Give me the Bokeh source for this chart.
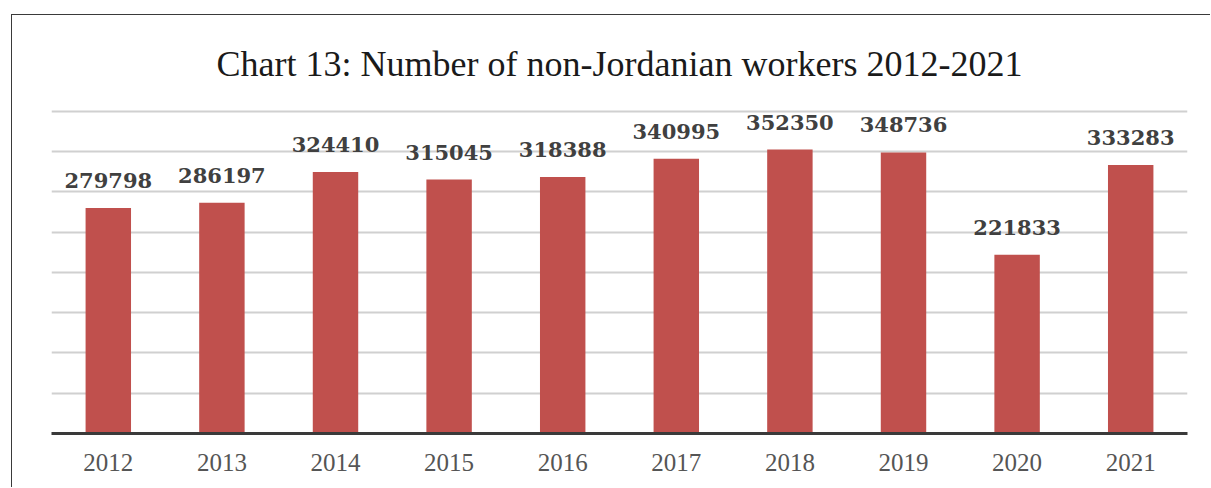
from bokeh.plotting import figure
from bokeh.models import Range1d, FixedTicker
from bokeh.core.properties import value
from bokeh.embed import file_html
from bokeh.resources import INLINE

# ---- data ----
years = ["2012", "2013", "2014", "2015", "2016", "2017", "2018", "2019", "2020", "2021"]
workers = [279798, 286197, 324410, 315045, 318388, 340995, 352350, 348736, 221833, 333283]
labels = [str(v) for v in workers]
grid_ticks = [0, 50000, 100000, 150000, 200000, 250000, 300000, 350000, 400000]

title_text = "Chart 13: Number of non-Jordanian workers 2012-2021"

p = figure(
    x_range=years,
    y_range=Range1d(0, 402000),
    width=1199,
    height=473,
    output_backend="svg",
    toolbar_location=None,
    title=title_text,
    min_border_left=39,
    min_border_right=24,
    min_border_top=94,
    min_border_bottom=55,
)
# outer chart border (only its left and top edges fall inside the window)
p.styles = {
    "margin-left": "11px",
    "margin-top": "14px",
    "border-left": "1px solid #3a3a3a",
    "border-top": "1px solid #3a3a3a",
}

p.title.text_font = "Liberation Serif"
p.title.text_font_size = "36px"
p.title.text_font_style = "normal"
p.title.text_color = "#1a1a1a"
p.title.align = "center"
p.title.standoff = 52

p.vbar(x=years, top=workers, width=0.4, color="#c0504d", line_color=None)

p.text(
    x=years, y=workers, text=labels,
    text_font=value("DejaVu Serif"), text_font_style="bold",
    text_font_size="21px", text_color="#404040",
    text_align="center", text_baseline="bottom", y_offset=-20,
)

p.outline_line_color = None
p.background_fill_color = "white"
p.border_fill_color = "white"

p.xgrid.grid_line_color = None
p.ygrid.ticker = FixedTicker(ticks=grid_ticks)
p.ygrid.grid_line_color = "#d0d0d0"
p.ygrid.grid_line_width = 2

p.yaxis.visible = False

ax = p.xaxis[0]
ax.axis_line_color = "#3a3a3a"
ax.axis_line_width = 3
ax.major_tick_line_color = None
ax.minor_tick_line_color = None
ax.major_tick_out = 0
ax.major_tick_in = 0
ax.major_label_standoff = 20
ax.major_label_text_font = "Liberation Serif"
ax.major_label_text_font_size = "25px"
ax.major_label_text_color = "#555555"

open("out.html", "w").write(file_html(p, INLINE))
